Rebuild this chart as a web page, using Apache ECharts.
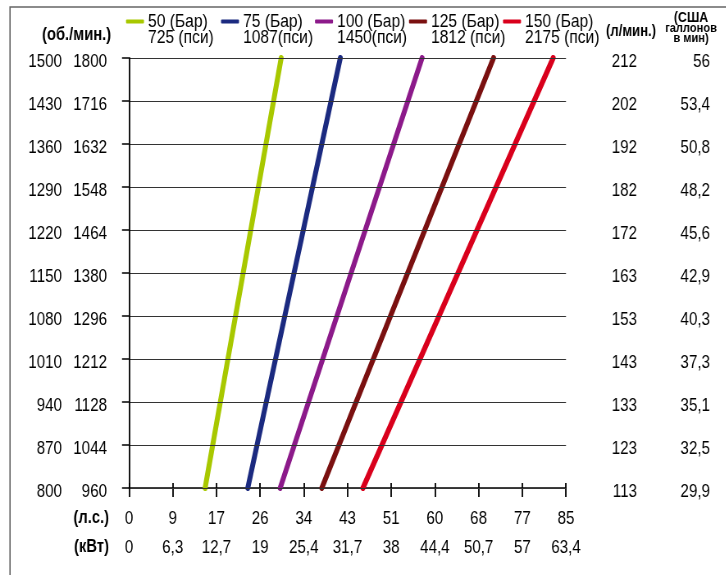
<!DOCTYPE html>
<html>
<head>
<meta charset="utf-8">
<script src="https://cdn.jsdelivr.net/npm/echarts@6/dist/echarts.min.js"></script>
<style>
html,body{margin:0;padding:0;background:#fff;overflow:hidden;width:726px;height:575px}
#c{height:575px;transform-origin:0 0}
</style>
</head>
<body>
<div id="c"></div>
<script>
const rpm1500 = [800, 870, 940, 1010, 1080, 1150, 1220, 1290, 1360, 1430, 1500];
const rpm1800 = ['960', '1044', '1128', '1212', '1296', '1380', '1464', '1548', '1632', '1716', '1800'];
const lpm = [113, 123, 133, 143, 153, 163, 172, 182, 192, 202, 212];
const gpm = ['29,9', '32,5', '35,1', '37,3', '40,3', '42,9', '45,6', '48,2', '50,8', '53,4', '56'];
const hpLabels = ['0', '9', '17', '26', '34', '43', '51', '60', '68', '77', '85'];
const kwLabels = ['0', '6,3', '12,7', '19', '25,4', '31,7', '38', '44,4', '50,7', '57', '63,4'];
const seriesNames = ['50 (Бар)', '75 (Бар)', '100 (Бар)', '125 (Бар)', '150 (Бар)'];
const psiLabels = ['725 (пси)', '1087(пси)', '1450(пси)', '1812 (пси)', '2175 (пси)'];
const colors = ['#a8c800', '#1b2a80', '#8c1a8a', '#7a1010', '#d9001c'];
const hpAtLow = [14.8, 23.1, 29.4, 37.5, 45.5];   // at 960 об./мин.
const hpAtHigh = [29.6, 41.1, 57.0, 70.9, 82.5];  // at 1800 об./мин.

// narrow type: render wider, then compress horizontally (like Arial Narrow)
const S = 0.82;
const W = 726 / S;
const el = document.getElementById('c');
el.style.width = W + 'px';
el.style.transform = 'scaleX(' + S + ')';
const X = px => px / S;

const FONT = "'Liberation Sans', Arial, sans-serif";
const FS = 18.5;
const legendLeft = [126, 221, 315, 409, 503];

const chart = echarts.init(el, null, {renderer: 'canvas', width: W, height: 575});

const yBase = {
  type: 'category', data: rpm1800, boundaryGap: false,
  axisLine: {show: false}, axisTick: {show: false}, splitLine: {show: false}
};
const lblStyle = {color: '#000', fontFamily: FONT, fontSize: FS, verticalAlign: 'top', lineHeight: 7};

const option = {
  animation: false,
  grid: {left: X(129), top: 58, right: X(160), bottom: 87, containLabel: false},
  legend: seriesNames.map((n, i) => ({
    data: [n], left: X(legendLeft[i]), top: -4, padding: 0, selectedMode: false,
    icon: 'roundRect', itemWidth: X(18), itemHeight: 4,
    textStyle: {fontFamily: FONT, fontSize: 19, color: '#000', lineHeight: 16, padding: 0},
    formatter: name => '\n' + name + '\n' + psiLabels[seriesNames.indexOf(name)]
  })),
  xAxis: [
    {
      type: 'value', min: 0, max: 85, interval: 8.5, position: 'bottom',
      axisLine: {show: true, lineStyle: {color: '#000', width: 1.5}},
      axisTick: {show: true, length: 9, lineStyle: {color: '#000', width: X(1.5)}},
      splitLine: {show: false},
      axisLabel: {color: '#000', fontFamily: FONT, fontSize: FS, margin: 21,
        formatter: v => hpLabels[Math.round(v / 8.5)]}
    },
    {
      type: 'value', min: 0, max: 85, interval: 8.5, position: 'bottom', offset: 29,
      axisLine: {show: false}, axisTick: {show: false}, splitLine: {show: false},
      axisLabel: {color: '#000', fontFamily: FONT, fontSize: FS, margin: 21,
        formatter: v => kwLabels[Math.round(v / 8.5)]}
    },
    {
      type: 'value', min: 0, max: 85, interval: 8.5, position: 'bottom',
      axisLine: {show: false}, splitLine: {show: false}, axisLabel: {show: false},
      axisTick: {show: true, inside: true, length: 5, lineStyle: {color: '#000', width: X(1.5)}}
    }
  ],
  yAxis: [
    Object.assign({}, yBase, {
      position: 'left', z: 5,
      axisLine: {show: true, lineStyle: {color: '#000', width: X(1.5)}},
      axisTick: {show: true, length: X(7), lineStyle: {color: '#000', width: 1.5}},
      splitLine: {show: true, lineStyle: {color: '#333', width: 1.2}},
      axisLabel: Object.assign({}, lblStyle, {margin: X(22)})
    }),
    Object.assign({}, yBase, {
      position: 'left', offset: X(45),
      axisLabel: Object.assign({}, lblStyle, {margin: X(22), formatter: (v, i) => String(rpm1500[i])})
    }),
    Object.assign({}, yBase, {
      position: 'right',
      axisLabel: Object.assign({}, lblStyle, {margin: X(71), align: 'right', formatter: (v, i) => String(lpm[i])})
    }),
    Object.assign({}, yBase, {
      position: 'right',
      axisLabel: Object.assign({}, lblStyle, {margin: X(144), align: 'right', formatter: (v, i) => gpm[i]})
    })
  ],
  series: seriesNames.map((n, i) => ({
    name: n, type: 'line', xAxisIndex: 0, yAxisIndex: 0,
    showSymbol: false, symbol: 'none', color: colors[i],
    lineStyle: {width: 6, color: colors[i], cap: 'round'},
    data: [[hpAtLow[i], rpm1800[0]], [hpAtHigh[i], rpm1800[rpm1800.length - 1]]]
  })),
  graphic: [
    {type: 'polyline', shape: {points: [[X(10), 580], [X(10), 7], [W + 10, 7]]},
      style: {stroke: '#666', lineWidth: 1.6, fill: null}},
    {type: 'text', x: X(42), y: 35, style: {text: '(об./мин.)', font: 'bold 18px ' + FONT, fill: '#000', verticalAlign: 'middle'}},
    {type: 'text', x: X(606), y: 32, style: {text: '(л/мин.)', font: 'bold 16px ' + FONT, fill: '#000', verticalAlign: 'middle'}},
    {type: 'text', x: X(691), y: 12, style: {
      text: '{a|(США}\n{b|галлонов}\n{b|в мин)}', align: 'center', verticalAlign: 'top', fill: '#000',
      rich: {a: {font: 'bold 15px ' + FONT, lineHeight: 11, align: 'center'},
             b: {font: 'bold 13.5px ' + FONT, lineHeight: 10, align: 'center'}}}},
    {type: 'text', x: X(109), y: 518, style: {text: '(л.с.)', font: 'bold 18px ' + FONT, fill: '#000', align: 'right', verticalAlign: 'middle'}},
    {type: 'text', x: X(109), y: 547, style: {text: '(кВт)', font: 'bold 18px ' + FONT, fill: '#000', align: 'right', verticalAlign: 'middle'}}
  ]
};
chart.setOption(option);
</script>
</body>
</html>
